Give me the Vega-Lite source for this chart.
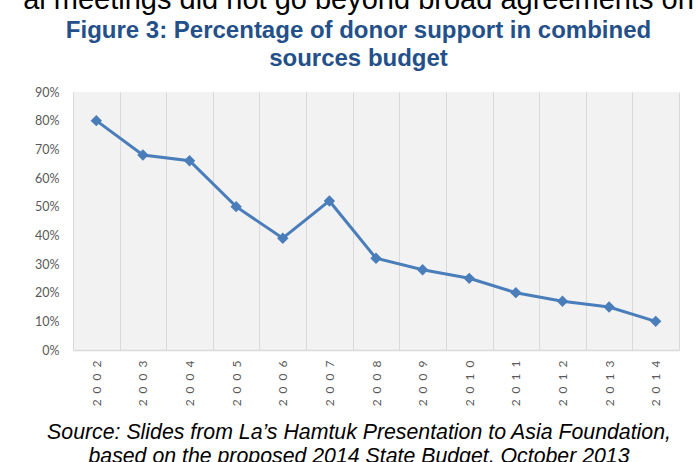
{
  "$schema": "https://vega.github.io/schema/vega-lite/v6.json",
  "autosize": {"type": "none"},
  "padding": {"left": 73, "top": 92, "right": 19, "bottom": 112},
  "width": 606,
  "height": 258,
  "background": "white",
  "title": {
    "text": "al meetings did not go beyond broad agreements on\u00a0\u00a0\u00a0\u00a0\u00a0\u00a0\u00a0",
    "font": "Liberation Sans",
    "fontSize": 29,
    "fontWeight": "normal",
    "color": "#000000",
    "subtitle": ["Figure 3: Percentage of donor support in combined", "sources budget"],
    "subtitleFont": "Liberation Sans",
    "subtitleFontSize": 24,
    "subtitleFontWeight": "bold",
    "subtitleColor": "#24508a",
    "subtitleLineHeight": 28,
    "subtitlePadding": 4,
    "anchor": "middle",
    "dx": -17.5,
    "offset": 15
  },
  "config": {
    "view": {"fill": "#f2f2f2", "stroke": null}
  },
  "data": {
    "values": [
      {"year": "2002", "pct": 80},
      {"year": "2003", "pct": 68},
      {"year": "2004", "pct": 66},
      {"year": "2005", "pct": 50},
      {"year": "2006", "pct": 39},
      {"year": "2007", "pct": 52},
      {"year": "2008", "pct": 32},
      {"year": "2009", "pct": 28},
      {"year": "2010", "pct": 25},
      {"year": "2011", "pct": 20},
      {"year": "2012", "pct": 17},
      {"year": "2013", "pct": 15},
      {"year": "2014", "pct": 10}
    ]
  },
  "encoding": {
    "x": {
      "field": "year",
      "type": "ordinal",
      "scale": {"type": "band", "paddingInner": 0, "paddingOuter": 0},
      "axis": {
        "tickBand": "extent",
        "grid": true,
        "gridColor": "#d9d9d9",
        "gridWidth": 1,
        "ticks": false,
        "domain": true,
        "domainColor": "#d9d9d9",
        "domainWidth": 1.5,
        "labelAngle": -90,
        "labelAlign": "right",
        "labelBaseline": "middle",
        "labelPadding": 10,
        "labelFont": "Lato",
        "labelFontSize": 12,
        "labelColor": "#595959",
        "labelExpr": "join(split(datum.label, ''), '\u2002')",
        "title": ["Source: Slides from La’s Hamtuk Presentation to Asia Foundation,", "based on the proposed 2014 State Budget, October 2013"],
        "titleFont": "Liberation Sans",
        "titleFontSize": 21.3,
        "titleFontStyle": "italic",
        "titleFontWeight": "normal",
        "titleColor": "#000000",
        "titleAlign": "center",
        "titleBaseline": "alphabetic",
        "titleLineHeight": 24,
        "titleX": 285.5,
        "titleY": 88
      }
    },
    "y": {
      "field": "pct",
      "type": "quantitative",
      "scale": {"domain": [0, 90], "nice": false},
      "axis": {
        "values": [0, 10, 20, 30, 40, 50, 60, 70, 80, 90],
        "labelExpr": "datum.value + '%'",
        "grid": false,
        "ticks": false,
        "domain": false,
        "labelPadding": 14,
        "labelFont": "Lato",
        "labelFontSize": 12.5,
        "labelColor": "#595959",
        "title": null
      }
    }
  },
  "layer": [
    {"mark": {"type": "line", "color": "#4a7ebb", "strokeWidth": 3}},
    {"mark": {"type": "point", "shape": "diamond", "filled": true, "opacity": 1, "size": 130, "color": "#4a7ebb"}}
  ]
}
